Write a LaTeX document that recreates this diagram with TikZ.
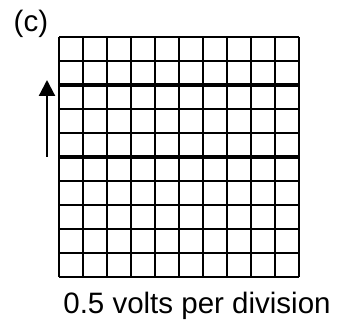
\documentclass[tikz,border=0pt]{standalone}
\usepackage{fontspec}
\setmainfont{Liberation Sans}
\usetikzlibrary{arrows.meta}
\tikzset{
  gridline/.style={line width=2pt, black},
  thickline/.style={line width=4.5pt, black},
  label/.style={inner sep=0pt, font=\fontsize{29.5}{32}\selectfont},
  arrowline/.style={line width=2.2pt, -{Triangle[length=16pt,width=16pt]}}
}
\begin{document}
\begin{tikzpicture}[x=1pt,y=-1pt]
\useasboundingbox (0,0) rectangle (342,320);
\foreach \i in {0,...,10} {
  \draw[gridline] (59+24*\i,37) -- (59+24*\i,277);
  \draw[gridline] (59,37+24*\i) -- (299,37+24*\i);
}
\draw[thickline] (59,85) -- (299,85);
\draw[thickline] (59,157) -- (299,157);
\coordinate (a0) at (47,157);
\coordinate (a1) at (47,80);
\draw[arrowline] (a0) -- (a1);
\node[label, anchor=base west] (lc) at (13.5,32) {(c)};
\node[label, anchor=base] (cap) at (197,313) {0.5 volts per division};
\end{tikzpicture}
\end{document}
